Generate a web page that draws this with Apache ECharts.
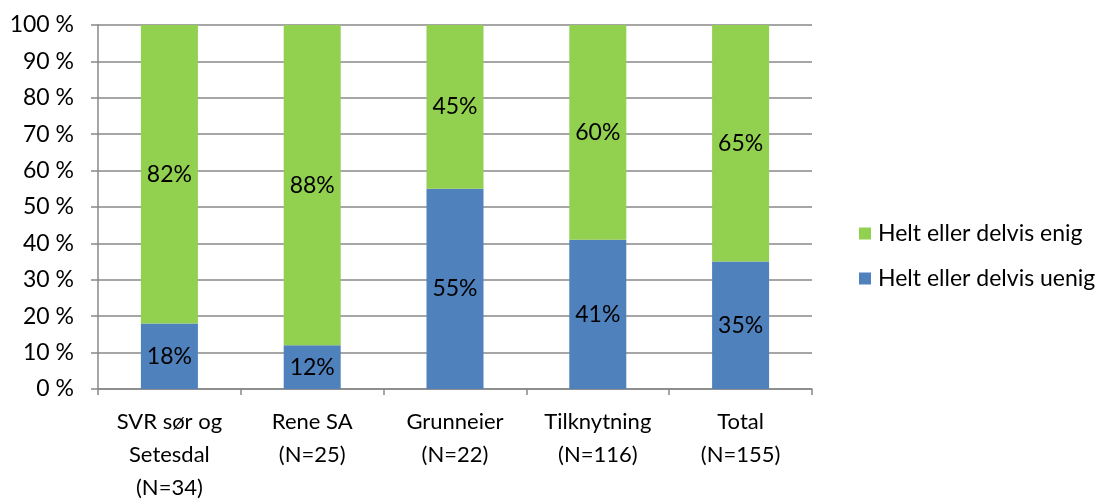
<!DOCTYPE html>
<html>
<head>
<meta charset="utf-8">
<script src="https://cdn.jsdelivr.net/npm/echarts@6/dist/echarts.min.js"></script>
<style>
  html, body { margin: 0; padding: 0; background: #fff; }
  #chart { width: 1109px; height: 500px; }
</style>
</head>
<body>
<div id="chart"></div>
<script>
// kategorier og verdier (prosent)
const categories = ['SVR sør og\nSetesdal\n(N=34)', 'Rene SA\n(N=25)', 'Grunneier\n(N=22)', 'Tilknytning\n(N=116)', 'Total\n(N=155)'];
const uenig = [18, 12, 55, 41, 35];
const enig = [82, 88, 45, 60, 65];
const seriesNames = ['Helt eller delvis uenig', 'Helt eller delvis enig'];

const fontFam = 'Lato, "Open Sans", sans-serif';
const fs = 23;

const chart = echarts.init(document.getElementById('chart'));

const labelOpt = {
  show: true,
  position: 'inside',
  color: '#000',
  fontSize: fs,
  fontFamily: fontFam,
  formatter: p => p.value + '%'
};

chart.setOption({
  animation: false,
  grid: { left: 98, right: 297, top: 25, bottom: 111, outerBoundsMode: 'none', containLabel: false },
  legend: {
    orient: 'vertical',
    left: 854,
    top: 217,
    itemWidth: 12,
    itemHeight: 12,
    itemGap: 22,
    icon: 'rect',
    data: [seriesNames[1], seriesNames[0]],
    textStyle: { fontSize: fs, fontFamily: fontFam, color: '#000', padding: [0, 0, 0, 2] }
  },
  xAxis: {
    type: 'category',
    data: categories,
    axisLine: { lineStyle: { color: '#888', width: 1.5 } },
    axisTick: { show: true, length: 6, alignWithLabel: false, lineStyle: { color: '#888', width: 1.5 } },
    axisLabel: { interval: 0, hideOverlap: false, color: '#000', fontSize: 22, fontFamily: fontFam, lineHeight: 33, margin: 16 }
  },
  yAxis: {
    type: 'value',
    min: 0,
    max: 100,
    interval: 10,
    axisLine: { show: true, lineStyle: { color: '#888', width: 1.5 } },
    axisTick: { show: true, length: 7, lineStyle: { color: '#888', width: 1.5 } },
    splitLine: { lineStyle: { color: '#888', width: 1.5 } },
    axisLabel: { color: '#000', fontSize: fs, fontFamily: fontFam, margin: 24, formatter: v => v + ' %' }
  },
  series: [
    {
      name: seriesNames[0],
      type: 'bar',
      stack: 'total',
      barWidth: 57,
      data: uenig,
      itemStyle: { color: '#4F81BD' },
      label: labelOpt
    },
    {
      name: seriesNames[1],
      type: 'bar',
      stack: 'total',
      barWidth: 57,
      data: enig,
      itemStyle: { color: '#92D050' },
      label: labelOpt
    }
  ]
});
</script>
</body>
</html>
